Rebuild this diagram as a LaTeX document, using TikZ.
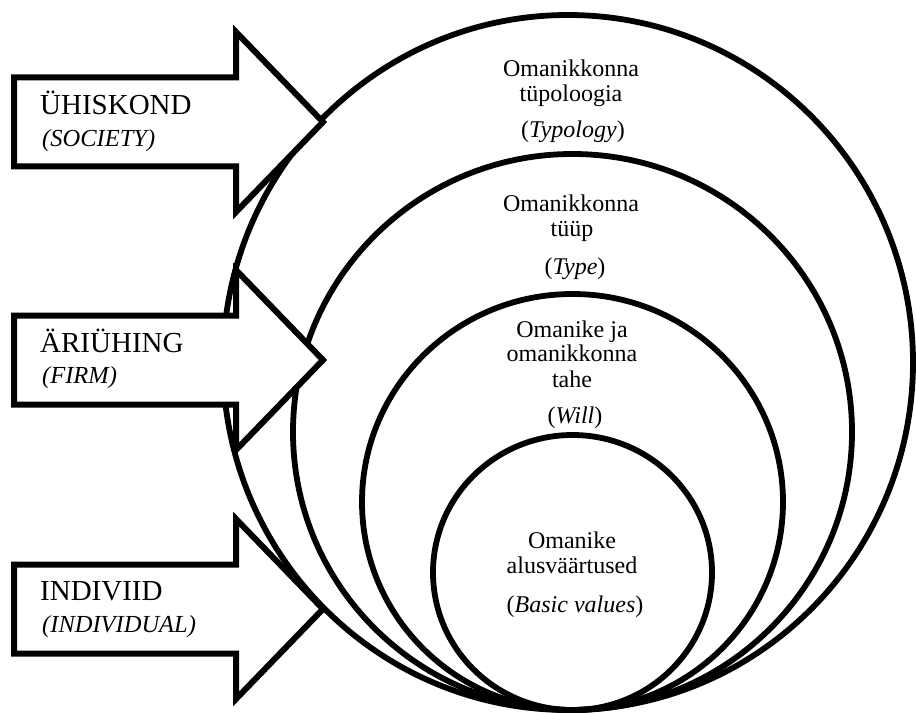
\documentclass[tikz,border=0pt]{standalone}
\usepackage{fontspec}
\setmainfont{Liberation Serif}
\begin{document}
\begin{tikzpicture}[x=1pt,y=-1pt,
  ring/.style={draw=black,line width=5.8pt},
  blockarrow/.style={draw=black,fill=white,line width=6pt,line join=miter,miter limit=10},
  headtext/.style={anchor=base west,inner sep=0pt,font=\fontsize{29}{31}\selectfont},
  subtext/.style={anchor=base west,inner sep=0pt,font=\fontsize{24.5}{26}\selectfont\itshape},
  ringtext/.style={anchor=base,inner sep=0pt,font=\fontsize{24}{25}\selectfont}]
\useasboundingbox (0,0) rectangle (916,714);

% nested rings, all touching at the bottom
\draw[ring] (568,362.5) ellipse [x radius=345, y radius=347.5];
\draw[ring] (572.5,432) ellipse [x radius=279.5, y radius=278];
\draw[ring] (572.5,502) ellipse [x radius=210.5, y radius=208];
\draw[ring] (572.5,572.5) ellipse [x radius=139.5, y radius=137.5];

% block arrows pointing into the rings
\foreach \c in {122,360,609}{
  \draw[blockarrow] (14,{\c-44.5}) -- (236,{\c-44.5}) -- (236,{\c-90}) -- (323,\c)
    -- (236,{\c+90}) -- (236,{\c+44.5}) -- (14,{\c+44.5}) -- cycle;
}

% arrow labels
\node[headtext] (society) at (40,115) {ÜHISKOND};
\node[subtext] (societyen) at (42,147) {(SOCIETY)};
\node[headtext] (firm) at (40,352) {ÄRIÜHING};
\node[subtext] (firmen) at (42,383) {(FIRM)};
\node[headtext] (individ) at (40,600) {INDIVIID};
\node[subtext] (individen) at (42,632) {(INDIVIDUAL)};

% ring labels
\node[ringtext] (typ1) at (571,77) {Omanikkonna};
\node[ringtext] (typ2) at (571,102) {tüpoloogia};
\node[ringtext] (typen) at (573,138) {(\textit{Typology})};

\node[ringtext] (type1) at (571,212) {Omanikkonna};
\node[ringtext] (type2) at (572,237) {tüüp};
\node[ringtext] (typeen) at (575,275) {(\textit{Type})};

\node[ringtext] (will1) at (572,337) {Omanike ja};
\node[ringtext] (will2) at (572,361) {omanikkonna};
\node[ringtext] (will3) at (572,387) {tahe};
\node[ringtext] (willen) at (575,423) {(\textit{Will})};

\node[ringtext] (val1) at (572,548) {Omanike};
\node[ringtext] (val2) at (572,573) {alusväärtused};
\node[ringtext] (valen) at (575,612) {(\textit{Basic values})};
\end{tikzpicture}
\end{document}
